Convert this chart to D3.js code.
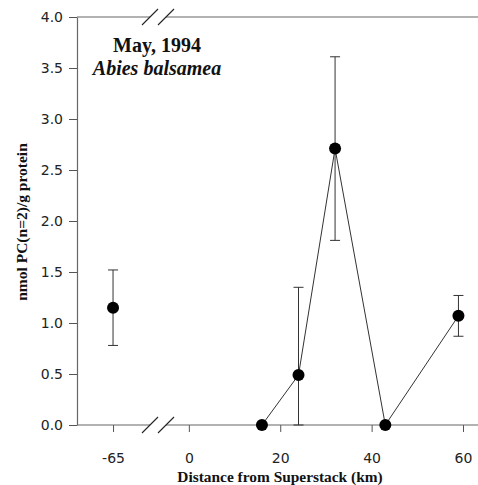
<!DOCTYPE html>
<html>
<head>
<meta charset="utf-8">
<script src="https://cdn.jsdelivr.net/npm/d3@7"></script>
<style>
  html, body { margin: 0; padding: 0; background: #fff; }
  svg { display: block; }
  .tick text { font-family: 'DejaVu Sans', sans-serif; font-size: 14px; fill: #222; }
  .tick line { stroke: #555; }
  .frame { stroke: #666; stroke-width: 1.2; fill: none; }
  .title { font-family: 'Liberation Serif', 'Times New Roman', serif; font-weight: bold; fill: #111; }
</style>
</head>
<body>
<div id="chart"></div>
<script>
  // data
  var distances = [-65, 16, 24, 32, 43, 59];
  var means = [1.15, 0, 0.49, 2.71, 0, 1.07];
  var errLow = [0.78, null, 0, 1.81, null, 0.87];
  var errHigh = [1.52, null, 1.35, 3.61, null, 1.27];
  var connected = [false, true, true, true, true, true];

  var xTicks = [-65, 0, 20, 40, 60];
  var yTicks = [0, 0.5, 1.0, 1.5, 2.0, 2.5, 3.0, 3.5, 4.0];
  // broken x axis: left piece, break gap, right piece
  var xDomain = [-72.9, -56.9, -5.0, 63.5];

  var WIDTH = 478, HEIGHT = 485;

  var svg = d3.select('#chart').append('svg')
    .attr('width', WIDTH)
    .attr('height', HEIGHT);

  var x = d3.scaleLinear()
    .domain(xDomain)
    .range([77, 150, 166, 479]);

  var y = d3.scaleLinear()
    .domain([0, 4])
    .range([425, 17]);

  //y axis
  var yAxis = svg.append('g')
    .attr('transform', 'translate(' + x(xDomain[0]) + ',0)')
    .call(d3.axisLeft(y)
      .tickValues(yTicks)
      .tickFormat(d3.format('.1f'))
      .tickSize(8)
      .tickPadding(6)
      .tickSizeOuter(0));
  yAxis.select('.domain').attr('class', 'frame');

  //x axis (ticks only, the line is drawn in two pieces)
  var xAxis = svg.append('g')
    .attr('transform', 'translate(0,' + y(0) + ')')
    .call(d3.axisBottom(x)
      .tickValues(xTicks)
      .tickFormat(function (d) { return String(d); }) // plain hyphen like the original
      .tickSize(7)
      .tickSizeOuter(0));
  xAxis.select('.domain').remove();
  xAxis.selectAll('.tick text').attr('y', 28).attr('dy', '0.71em');

  // bottom and top lines with the break
  [y(0), y(4)].forEach(function (yy) {
    svg.append('line').attr('class', 'frame')
      .attr('x1', x(xDomain[0])).attr('x2', x(xDomain[1]))
      .attr('y1', yy).attr('y2', yy);
    svg.append('line').attr('class', 'frame')
      .attr('x1', x(xDomain[2])).attr('x2', WIDTH)
      .attr('y1', yy).attr('y2', yy);
    [xDomain[1], xDomain[2]].forEach(function (b) {
      svg.append('line')
        .attr('x1', x(b) - 8).attr('y1', yy + 8)
        .attr('x2', x(b) + 8).attr('y2', yy - 8)
        .attr('stroke', '#222').attr('stroke-width', 1.1);
    });
  });

  var points = distances.map(function (d, i) {
    return { x: d, y: means[i], lo: errLow[i], hi: errHigh[i], link: connected[i] };
  });

  // connecting line
  var line = d3.line()
    .x(function (d) { return x(d.x); })
    .y(function (d) { return y(d.y); });

  svg.append('path')
    .datum(points.filter(function (d) { return d.link; }))
    .attr('d', line)
    .attr('fill', 'none')
    .attr('stroke', '#333')
    .attr('stroke-width', 1);

  // error bars
  var bars = svg.append('g')
    .selectAll('g')
    .data(points.filter(function (d) { return d.hi !== null; }))
    .enter().append('g')
    .attr('stroke', '#333')
    .attr('stroke-width', 1);

  bars.append('line')
    .attr('x1', function (d) { return x(d.x); })
    .attr('x2', function (d) { return x(d.x); })
    .attr('y1', function (d) { return y(d.lo); })
    .attr('y2', function (d) { return y(d.hi); });
  bars.append('line')
    .attr('x1', function (d) { return x(d.x) - 5; })
    .attr('x2', function (d) { return x(d.x) + 5; })
    .attr('y1', function (d) { return y(d.hi); })
    .attr('y2', function (d) { return y(d.hi); });
  bars.append('line')
    .attr('x1', function (d) { return x(d.x) - 5; })
    .attr('x2', function (d) { return x(d.x) + 5; })
    .attr('y1', function (d) { return y(d.lo); })
    .attr('y2', function (d) { return y(d.lo); });

  // points
  svg.append('g')
    .selectAll('circle')
    .data(points)
    .enter().append('circle')
    .attr('cx', function (d) { return x(d.x); })
    .attr('cy', function (d) { return y(d.y); })
    .attr('r', 6)
    .attr('fill', '#000');

  // labels
  svg.append('text')
    .attr('class', 'title')
    .attr('x', 157)
    .attr('y', 52)
    .attr('text-anchor', 'middle')
    .style('font-size', '20px')
    .text('May, 1994');

  svg.append('text')
    .attr('class', 'title')
    .attr('x', 157)
    .attr('y', 75)
    .attr('text-anchor', 'middle')
    .style('font-size', '20px')
    .style('font-style', 'italic')
    .text('Abies balsamea');

  svg.append('text')
    .attr('class', 'title')
    .attr('transform', 'translate(27,222)rotate(-90)')
    .attr('text-anchor', 'middle')
    .style('font-size', '15.5px')
    .text('nmol PC(n=2)/g protein');

  svg.append('text')
    .attr('class', 'title')
    .attr('x', 280)
    .attr('y', 482)
    .attr('text-anchor', 'middle')
    .style('font-size', '15.4px')
    .text('Distance from Superstack (km)');
</script>
</body>
</html>
